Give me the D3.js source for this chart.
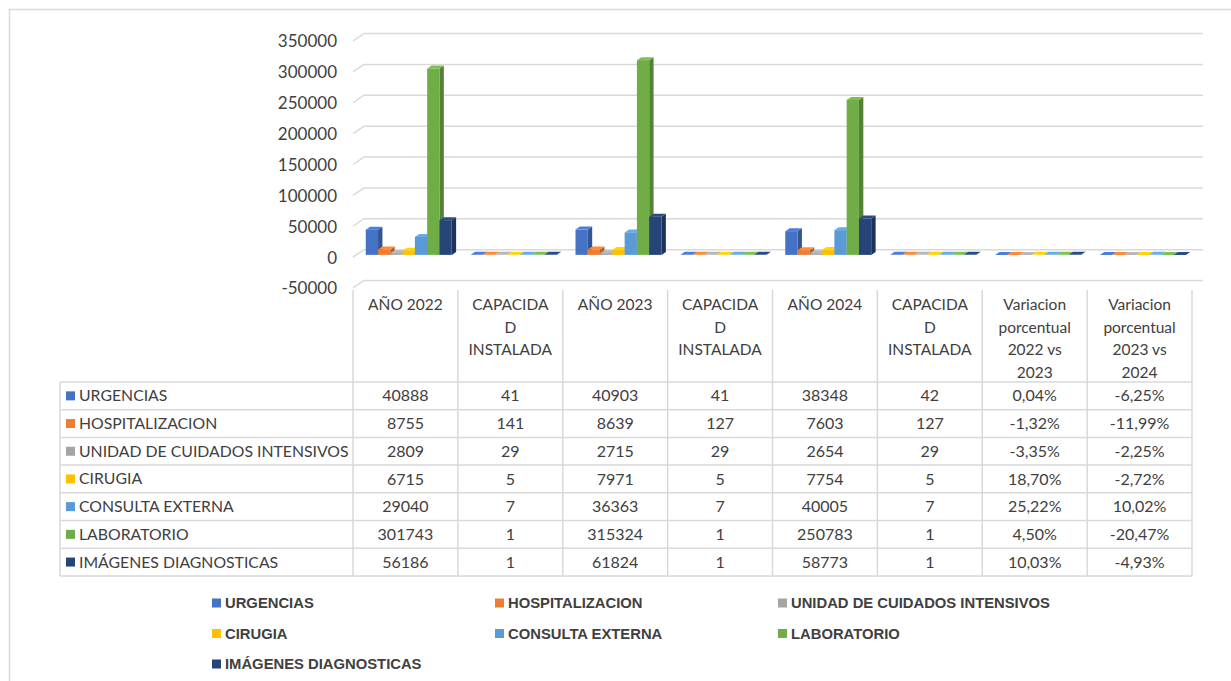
<!DOCTYPE html>
<html>
<head>
<meta charset="utf-8">
<script src="https://cdn.jsdelivr.net/npm/d3@7"></script>
<style>
  body { margin: 0; background: #fff; }
  text { font-family: Lato, "Open Sans", sans-serif; fill: #404040; }
  .legend text { font-family: "Liberation Sans Narrow", "Arial Narrow", sans-serif; font-weight: bold; fill: #404040; }
</style>
</head>
<body>
<div id="chart"></div>
<script>
// categories (column headers of the data table), wrapped as in the picture
var categories = ["AÑO 2022", "CAPACIDAD INSTALADA", "AÑO 2023", "CAPACIDAD INSTALADA",
    "AÑO 2024", "CAPACIDAD INSTALADA", "Variacion porcentual 2022 vs 2023", "Variacion porcentual 2023 vs 2024"];
var headerLines = [["AÑO 2022"], ["CAPACIDA", "D", "INSTALADA"], ["AÑO 2023"], ["CAPACIDA", "D", "INSTALADA"],
    ["AÑO 2024"], ["CAPACIDA", "D", "INSTALADA"], ["Variacion", "porcentual", "2022 vs", "2023"],
    ["Variacion", "porcentual", "2023 vs", "2024"]];
var percentCols = [6, 7];

// series
var seriesNames = ["URGENCIAS", "HOSPITALIZACION", "UNIDAD DE CUIDADOS INTENSIVOS", "CIRUGIA",
    "CONSULTA EXTERNA", "LABORATORIO", "IMÁGENES DIAGNOSTICAS"];
var seriesColors = ["#4472C4", "#ED7D31", "#A5A5A5", "#FFC000", "#5B9BD5", "#70AD47", "#264478"];

var urgencias = [40888, 41, 40903, 41, 38348, 42, 0.0004, -0.0625];
var hospitalizacion = [8755, 141, 8639, 127, 7603, 127, -0.0132, -0.1199];
var uci = [2809, 29, 2715, 29, 2654, 29, -0.0335, -0.0225];
var cirugia = [6715, 5, 7971, 5, 7754, 5, 0.1870, -0.0272];
var consultaExterna = [29040, 7, 36363, 7, 40005, 7, 0.2522, 0.1002];
var laboratorio = [301743, 1, 315324, 1, 250783, 1, 0.0450, -0.2047];
var imagenes = [56186, 1, 61824, 1, 58773, 1, 0.1003, -0.0493];
var seriesValues = [urgencias, hospitalizacion, uci, cirugia, consultaExterna, laboratorio, imagenes];

// y axis ticks
var yTicks = [-50000, 0, 50000, 100000, 150000, 200000, 250000, 300000, 350000];

var svgWidth = 1231, svgHeight = 681;

// spanish style numbers with a plain hyphen for negatives
var locale = d3.formatLocale({ decimal: ",", thousands: ".", grouping: [3], currency: ["$", ""], minus: "-" });
var pct = locale.format(".2%");
var intFmt = locale.format("d");

var svg = d3.select("#chart").append("svg")
    .attr("width", svgWidth)
    .attr("height", svgHeight);

// chart area border
svg.append("rect")
    .attr("x", 9.5).attr("y", 9.5)
    .attr("width", 1260).attr("height", 700)
    .attr("fill", "none").attr("stroke", "#d9d9d9").attr("stroke-width", 1.5);

// plot box (front plane) and 3d depth
var plotLeft = 353, plotRight = 1192;
var depthX = 11, depthY = -7.5;

var yScale = d3.scaleLinear()
    .domain([-50000, 350000])
    .range([288, 41]);

var x0 = d3.scaleBand()
    .domain(d3.range(categories.length))
    .range([plotLeft, plotRight])
    .padding(0);

var x1 = d3.scaleBand()
    .domain(d3.range(seriesNames.length))
    .range([0, x0.bandwidth()])
    .paddingInner(0)
    .paddingOuter(0.77);

// back wall gridlines with the side wall diagonal
svg.append("g").selectAll("path")
    .data(yTicks)
    .enter().append("path")
    .attr("d", function (v) {
        var y = yScale(v);
        return "M" + plotLeft + "," + y + "L" + (plotLeft + depthX) + "," + (y + depthY) +
            "L" + (plotRight + depthX) + "," + (y + depthY);
    })
    .attr("fill", "none")
    .attr("stroke", "#d9d9d9")
    .attr("stroke-width", 1.5);

// y axis labels
var yAxis = d3.axisLeft(yScale).tickValues(yTicks).tickSize(0).tickPadding(0).tickFormat(intFmt);
var yAxisG = svg.append("g")
    .attr("transform", "translate(337,0)")
    .call(yAxis);
yAxisG.select(".domain").remove();
yAxisG.selectAll("text")
    .attr("font-family", null)
    .style("font-size", "17px")
    .attr("dy", "0.35em");

// 3d bars
var f1 = 0.3, f2 = 0.7;   // bar depth as fraction of wall depth
var barsG = svg.append("g");
categories.forEach(function (cat, ci) {
    seriesValues.forEach(function (vals, si) {
        var v = vals[ci];
        var color = d3.color(seriesColors[si]);
        var xl = x0(ci) + x1(si) + depthX * f1;
        var xr = xl + x1.bandwidth();
        var yb = yScale(0) + depthY * f1;
        var yt = yScale(v) + depthY * f1;
        var top = Math.min(yb, yt), bot = Math.max(yb, yt);
        var ddx = depthX * (f2 - f1), ddy = depthY * (f2 - f1);
        var g = barsG.append("g");
        // side face
        g.append("path")
            .attr("d", "M" + xr + "," + top + "L" + (xr + ddx) + "," + (top + ddy) +
                "L" + (xr + ddx) + "," + (bot + ddy) + "L" + xr + "," + bot + "Z")
            .attr("fill", color.darker(0.8));
        // top face
        g.append("path")
            .attr("d", "M" + xl + "," + top + "L" + (xl + ddx) + "," + (top + ddy) +
                "L" + (xr + ddx) + "," + (top + ddy) + "L" + xr + "," + top + "Z")
            .attr("fill", color.brighter(0.3));
        // front face
        g.append("rect")
            .attr("x", xl).attr("y", top)
            .attr("width", x1.bandwidth())
            .attr("height", Math.max(0, bot - top))
            .attr("fill", color);
    });
});

// data table
var tableLeft = 60;
var rowTop = 382, rowH = 27.7;
var headTop = yScale(-50000);
var tableG = svg.append("g");
var lineColor = "#d9d9d9";

// horizontal row lines
d3.range(seriesNames.length + 1).forEach(function (r) {
    tableG.append("line")
        .attr("x1", tableLeft).attr("x2", plotRight)
        .attr("y1", rowTop + r * rowH).attr("y2", rowTop + r * rowH)
        .attr("stroke", lineColor).attr("stroke-width", 1.5);
});
// vertical lines
tableG.append("line")
    .attr("x1", tableLeft).attr("x2", tableLeft)
    .attr("y1", rowTop).attr("y2", rowTop + seriesNames.length * rowH)
    .attr("stroke", lineColor).attr("stroke-width", 1.5);
d3.range(categories.length + 1).forEach(function (c) {
    var x = c < categories.length ? x0(c) : plotRight;
    tableG.append("line")
        .attr("x1", x).attr("x2", x)
        .attr("y1", headTop + 2).attr("y2", rowTop + seriesNames.length * rowH)
        .attr("stroke", lineColor).attr("stroke-width", 1.5);
});

// header text
headerLines.forEach(function (lines, ci) {
    var t = tableG.append("text")
        .attr("text-anchor", "middle")
        .style("font-size", "15.5px");
    lines.forEach(function (ln, li) {
        t.append("tspan")
            .attr("x", x0(ci) + x0.bandwidth() / 2)
            .attr("y", 310 + li * 22.5)
            .text(ln);
    });
});

// row labels with colour keys
seriesNames.forEach(function (name, si) {
    var cy = rowTop + (si + 0.5) * rowH;
    tableG.append("rect")
        .attr("x", 66).attr("y", cy - 4.5)
        .attr("width", 9).attr("height", 9)
        .attr("fill", seriesColors[si]);
    tableG.append("text")
        .attr("x", 79).attr("y", cy)
        .attr("dy", "0.35em")
        .style("font-size", "15.8px")
        .text(name);
    seriesValues[si].forEach(function (v, ci) {
        tableG.append("text")
            .attr("x", x0(ci) + x0.bandwidth() / 2)
            .attr("y", cy)
            .attr("dy", "0.35em")
            .attr("text-anchor", "middle")
            .style("font-size", "16px")
            .text(percentCols.indexOf(ci) >= 0 ? pct(v) : intFmt(v));
    });
});

// legend
var legendG = svg.append("g").attr("class", "legend");
seriesNames.forEach(function (name, si) {
    var col = si % 3, row = Math.floor(si / 3);
    var lx = 212 + col * 283, ly = 603 + row * 30.5;
    legendG.append("rect")
        .attr("x", lx).attr("y", ly - 4.5)
        .attr("width", 9).attr("height", 9)
        .attr("fill", seriesColors[si]);
    legendG.append("text")
        .attr("x", lx + 13).attr("y", ly)
        .attr("dy", "0.35em")
        .style("font-size", "14.8px")
        .text(name);
});
</script>
</body>
</html>
